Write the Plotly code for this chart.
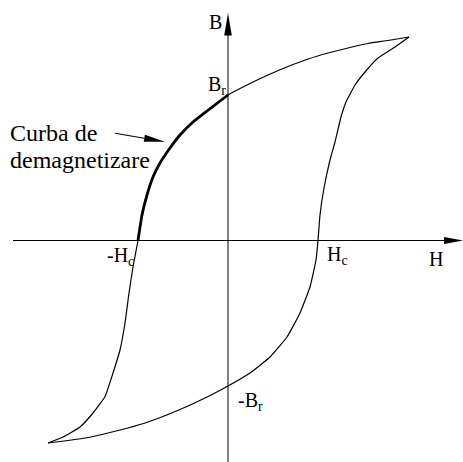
import plotly.graph_objects as go

# hysteresis loop (H, B in arbitrary units, origin at axes crossing)
desc_h = [181, 160, 140, 120, 100, 80, 60, 40, 20, 0, -8, -21, -35, -48, -58, -68, -75, -81, -86, -90,
          -95, -99, -103, -108, -115, -123, -135, -148, -165, -180]
desc_b = [203.5, 200, 197, 192.5, 187.5, 181.5, 174, 165.5, 156, 145.5, 139.5, 129.5, 118.5, 105.5,
          92.5, 77.5, 63.5, 45.5, 25.5, 0, -26.5, -52.5, -82.5, -109.5, -132.5, -156, -172.5, -186.5,
          -196.5, -202.5]

asc_h = [-180, -160, -140, -120, -100, -80, -60, -40, -20, 0, 22, 42, 59, 72, 82, 88, 90, 92, 96, 102, 107,
         113, 118, 127, 137, 150, 167, 181]
asc_b = [-202.5, -200, -197, -192.5, -187.5, -181.5, -174, -165.5, -156, -145.5, -132.5, -116.5, -96.5,
         -72.5, -46.5, -19.5, 0, 25.5, 52.5, 80.5, 98.5, 123.5, 138.5, 155.5, 168.5, 182.5, 193.5, 203.5]

# demagnetisation part of the descending branch (from Br down to -Hc)
demag_h = [0, -8, -21, -35, -48, -58, -68, -75, -81, -86, -90]
demag_b = [145.5, 139.5, 129.5, 118.5, 105.5, 92.5, 77.5, 63.5, 45.5, 25.5, 0]

FONT = "Liberation Serif"

fig = go.Figure()

for hx, by in [(desc_h, desc_b), (asc_h, asc_b)]:
    fig.add_trace(
        go.Scatter(x=hx, y=by, mode="lines", line=dict(color="black", width=1.2, shape="spline", smoothing=0.4),
                   hoverinfo="skip")
    )

fig.add_trace(
    go.Scatter(x=demag_h, y=demag_b, mode="lines", line=dict(color="black", width=2.8, shape="spline", smoothing=0.4),
               hoverinfo="skip")
)

shapes = [
    # B axis (gray) and H axis (black)
    dict(type="line", x0=0, x1=0, y0=-222, y1=215, line=dict(color="#808080", width=2), layer="below"),
    dict(type="line", x0=-215, x1=220, y0=0, y1=0, line=dict(color="black", width=1.2), layer="below"),
    # arrow heads
    dict(type="path", path="M 0,227.5 L -3.8,205 L 3.8,205 Z", fillcolor="black", line=dict(width=0)),
    dict(type="path", path="M 235,0 L 216,3.6 L 216,-3.6 Z", fillcolor="black", line=dict(width=0)),
    # pointer to the demagnetisation curve
    dict(type="line", x0=-113, y0=107.2, x1=-83.7, y1=102.3, line=dict(color="black", width=1.1)),
    dict(type="path", path="M -63,98.8 L -83.1,105.8 L -84.3,98.8 Z", fillcolor="black", line=dict(width=0)),
]

labels = [
    ("B", -13, 219, "center", 20),
    ("B<sub>r</sub>", 0, 155.2, "right", 20),
    ("-H<sub>c</sub>", -92, -15.5, "right", 20),
    ("H<sub>c</sub>", 97, -15, "left", 20),
    ("H", 207.5, -18, "center", 20),
    ("-B<sub>r</sub>", 8, -160.8, "left", 20),
    ("Curba de", -220, 107.5, "left", 24),
    ("demagnetizare", -220, 81, "left", 24),
]
annotations = [
    dict(text=t, x=x, y=y, xref="x", yref="y", xanchor=xa, yanchor="middle", showarrow=False,
         font=dict(family=FONT, size=s, color="black"))
    for t, x, y, xa, s in labels
]

fig.update_layout(
    width=463,
    height=462,
    margin=dict(l=0, r=0, t=0, b=0),
    paper_bgcolor="white",
    plot_bgcolor="white",
    showlegend=False,
    font=dict(family=FONT),
    shapes=shapes,
    annotations=annotations,
    xaxis=dict(range=[-228, 235], visible=False, fixedrange=True),
    yaxis=dict(range=[-221.5, 240.5], visible=False, fixedrange=True),
)

# drop the default page margin so the figure sits at the window's corner
fig.write_html("out.html", config=dict(displayModeBar=False),
               post_script="document.body.style.margin='0';")
